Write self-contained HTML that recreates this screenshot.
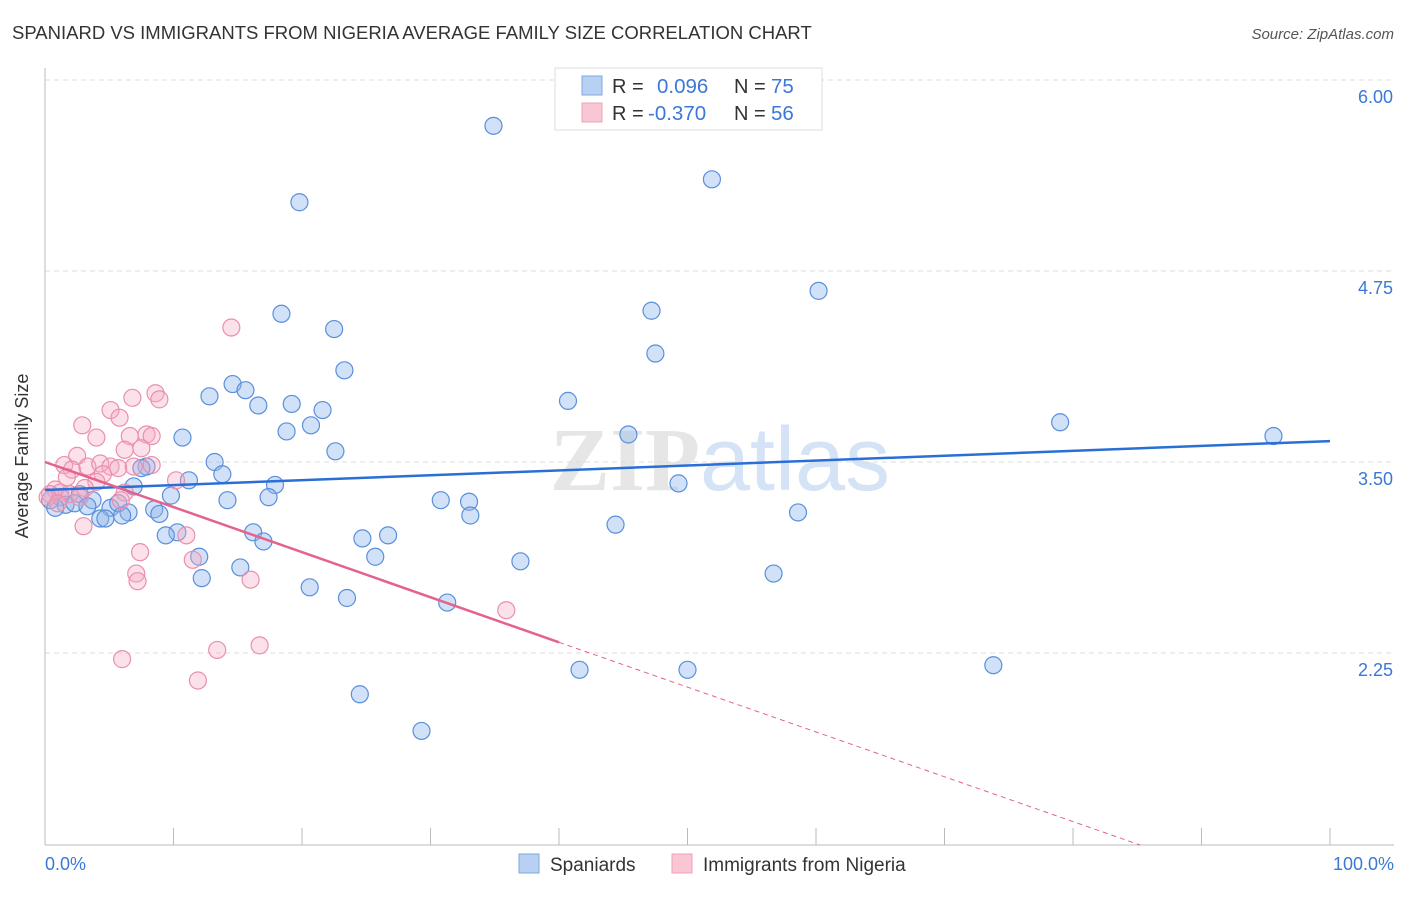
<!DOCTYPE html>
<html><head><meta charset="utf-8"><style>
body{margin:0;background:#fff;font-family:"Liberation Sans",sans-serif;}
</style></head><body>
<svg id="chart" width="1406" height="892" xmlns="http://www.w3.org/2000/svg">
<text x="12" y="39" font-size="18.5" fill="#333">SPANIARD VS IMMIGRANTS FROM NIGERIA AVERAGE FAMILY SIZE CORRELATION CHART</text>
<text x="1394" y="39" font-size="15" fill="#555" text-anchor="end" font-style="italic">Source: ZipAtlas.com</text>
<text x="720" y="490" font-size="90" fill="#e6e6e6" text-anchor="middle" font-family="Liberation Serif" font-weight="bold">ZIP<tspan fill="#d4e3f5" font-family="Liberation Sans" font-weight="normal">atlas</tspan></text>
<g id="grid"></g>
<line x1="45" y1="68" x2="45" y2="845" stroke="#bbb"/>
<line x1="45" y1="845" x2="1394" y2="845" stroke="#bbb"/>
<text x="28" y="456" font-size="18" fill="#333" text-anchor="middle" transform="rotate(-90 28 456)">Average Family Size</text>
<text x="45" y="870" font-size="18" fill="#3b78d8">0.0%</text>
<text x="1394" y="870" font-size="18" fill="#3b78d8" text-anchor="end">100.0%</text>
<g id="points"></g>
<g id="lines"></g>
<g>
<rect x="555" y="68" width="267" height="62" fill="#fff" stroke="#ddd"/>
<rect x="582" y="76" width="20" height="19" fill="#b8d1f3" stroke="#7fa7e0"/>
<rect x="582" y="103" width="20" height="19" fill="#f9c6d4" stroke="#eea0b8"/>
<text x="612" y="93" font-size="20" fill="#333">R = </text><text x="657" y="93" font-size="20.5" fill="#3b78d8">0.096</text>
<text x="734" y="93" font-size="20" fill="#333">N = </text><text x="771" y="93" font-size="20.5" fill="#3b78d8">75</text>
<text x="612" y="120" font-size="20" fill="#333">R = </text><text x="648" y="120" font-size="20.5" fill="#3b78d8">-0.370</text>
<text x="734" y="120" font-size="20" fill="#333">N = </text><text x="771" y="120" font-size="20.5" fill="#3b78d8">56</text>
</g>
<g>
<rect x="519" y="854" width="20" height="19" fill="#b8d1f3" stroke="#7fa7e0"/>
<text x="550" y="871" font-size="19" fill="#333">Spaniards</text>
<rect x="672" y="854" width="20" height="19" fill="#f9c6d4" stroke="#eea0b8"/>
<text x="703" y="871" font-size="19" fill="#333">Immigrants from Nigeria</text>
</g>
</svg>
<script>
const yTicks=[6.00,4.75,3.50,2.25];
const xTicks=[0,10,20,30,40,50,60,70,80,90,100];
const blueX=[34.9,51.9,19.8,60.2,18.4,47.2,22.5,47.5,23.3,14.6,15.6,12.8,40.7,16.6,19.2,21.6,20.7,18.8,10.7,45.4,79.0,95.6,22.6,13.2,13.8,7.9,7.5,11.2,17.9,49.3,6.9,9.8,17.4,14.2,30.8,33.0,33.1,58.6,44.4,3.7,2.7,1.2,1.6,0.4,0.8,2.3,3.3,5.1,5.7,4.3,4.7,6.5,6.0,8.5,8.9,10.3,9.4,16.2,17.0,24.7,26.7,25.7,12.0,15.2,37.0,12.2,20.6,23.5,31.3,56.7,41.6,50.0,73.8,24.5,29.3];
const blueY=[5.70,5.35,5.20,4.62,4.47,4.49,4.37,4.21,4.10,4.01,3.97,3.93,3.90,3.87,3.88,3.84,3.74,3.70,3.66,3.68,3.76,3.67,3.57,3.50,3.42,3.47,3.46,3.38,3.35,3.36,3.34,3.28,3.27,3.25,3.25,3.24,3.15,3.17,3.09,3.25,3.29,3.27,3.22,3.25,3.20,3.23,3.21,3.20,3.23,3.13,3.13,3.17,3.15,3.19,3.16,3.04,3.02,3.04,2.98,3.00,3.02,2.88,2.88,2.81,2.85,2.74,2.68,2.61,2.58,2.77,2.14,2.14,2.17,1.98,1.74];
const pinkX=[14.5,8.6,8.9,6.8,5.1,5.8,2.9,4.0,6.6,7.9,8.3,7.5,6.2,2.5,1.5,2.1,3.3,4.3,5.1,5.7,6.9,8.3,4.5,1.7,4.0,3.1,10.2,0.8,0.4,1.2,0.2,1.9,2.7,1.0,6.2,5.9,3.0,11.0,7.4,11.5,7.1,7.2,16.0,35.9,16.7,13.4,6.0,11.9];
const pinkY=[4.38,3.95,3.91,3.92,3.84,3.79,3.74,3.66,3.67,3.68,3.67,3.59,3.58,3.54,3.48,3.45,3.47,3.49,3.47,3.46,3.47,3.48,3.42,3.40,3.37,3.33,3.38,3.32,3.29,3.30,3.27,3.29,3.27,3.23,3.30,3.25,3.08,3.02,2.91,2.86,2.77,2.72,2.73,2.53,2.30,2.27,2.21,2.07];
const blueLine=[3.317,3.637];
const pinkLine=[3.50,2.32,0.56];
const X0=45,X1=1330,Y0=80,V0=6.0,PPU=152.8;
const xs=v=>X0+(X1-X0)*v/100;
const ys=v=>Y0+(V0-v)*PPU;
const NS="http://www.w3.org/2000/svg";
function mk(tag,attrs,parent){const e=document.createElementNS(NS,tag);for(const k in attrs)e.setAttribute(k,attrs[k]);parent.appendChild(e);return e;}
const grid=document.getElementById('grid');
yTicks.forEach(v=>{
 const l=mk('line',{x1:45,x2:1394,y1:ys(v),y2:ys(v),stroke:'#ddd','stroke-dasharray':'5,4'},grid);
 
 
 const t=mk('text',{x:1393,y:ys(v)+23,'font-size':18,fill:'#3b78d8','text-anchor':'end'},grid);
 t.textContent=v.toFixed(2);
 
 
});
xTicks.forEach(v=>{
 const l=mk('line',{x1:xs(v),x2:xs(v),y1:828,y2:845,stroke:'#bbb'},grid);
 
 
});
const pts=document.getElementById('points');
blueX.forEach((x,i)=>{
 const c=mk('circle',{cx:xs(x),cy:ys(blueY[i]),r:8.5,fill:'rgba(140,180,235,0.4)',stroke:'#5a8fdc','stroke-width':1.2},pts);
 
 
});
pinkX.forEach((x,i)=>{
 const c=mk('circle',{cx:xs(x),cy:ys(pinkY[i]),r:8.5,fill:'rgba(245,170,195,0.35)',stroke:'#e990ac','stroke-width':1.2},pts);
 
 
});
const ln=document.getElementById('lines');
const b=mk('line',{x1:xs(0),y1:ys(blueLine[0]),x2:xs(100),y2:ys(blueLine[1]),stroke:'#2a6fd6','stroke-width':2.5},ln);


const p=mk('line',{x1:xs(0),y1:ys(pinkLine[0]),x2:xs(40),y2:ys(pinkLine[1]),stroke:'#e4628e','stroke-width':2.5},ln);


const slope=(pinkLine[2]-pinkLine[1])/60;
const vBottom=V0-(845-Y0)/PPU;
const xEnd=Math.min(100,40+(vBottom-pinkLine[1])/slope);
const pd=mk('line',{x1:xs(40),y1:ys(pinkLine[1]),x2:xs(xEnd),y2:ys(pinkLine[1]+slope*(xEnd-40)),stroke:'#e4628e','stroke-width':1,'stroke-dasharray':'5,4'},ln);


</script>
</body></html>
